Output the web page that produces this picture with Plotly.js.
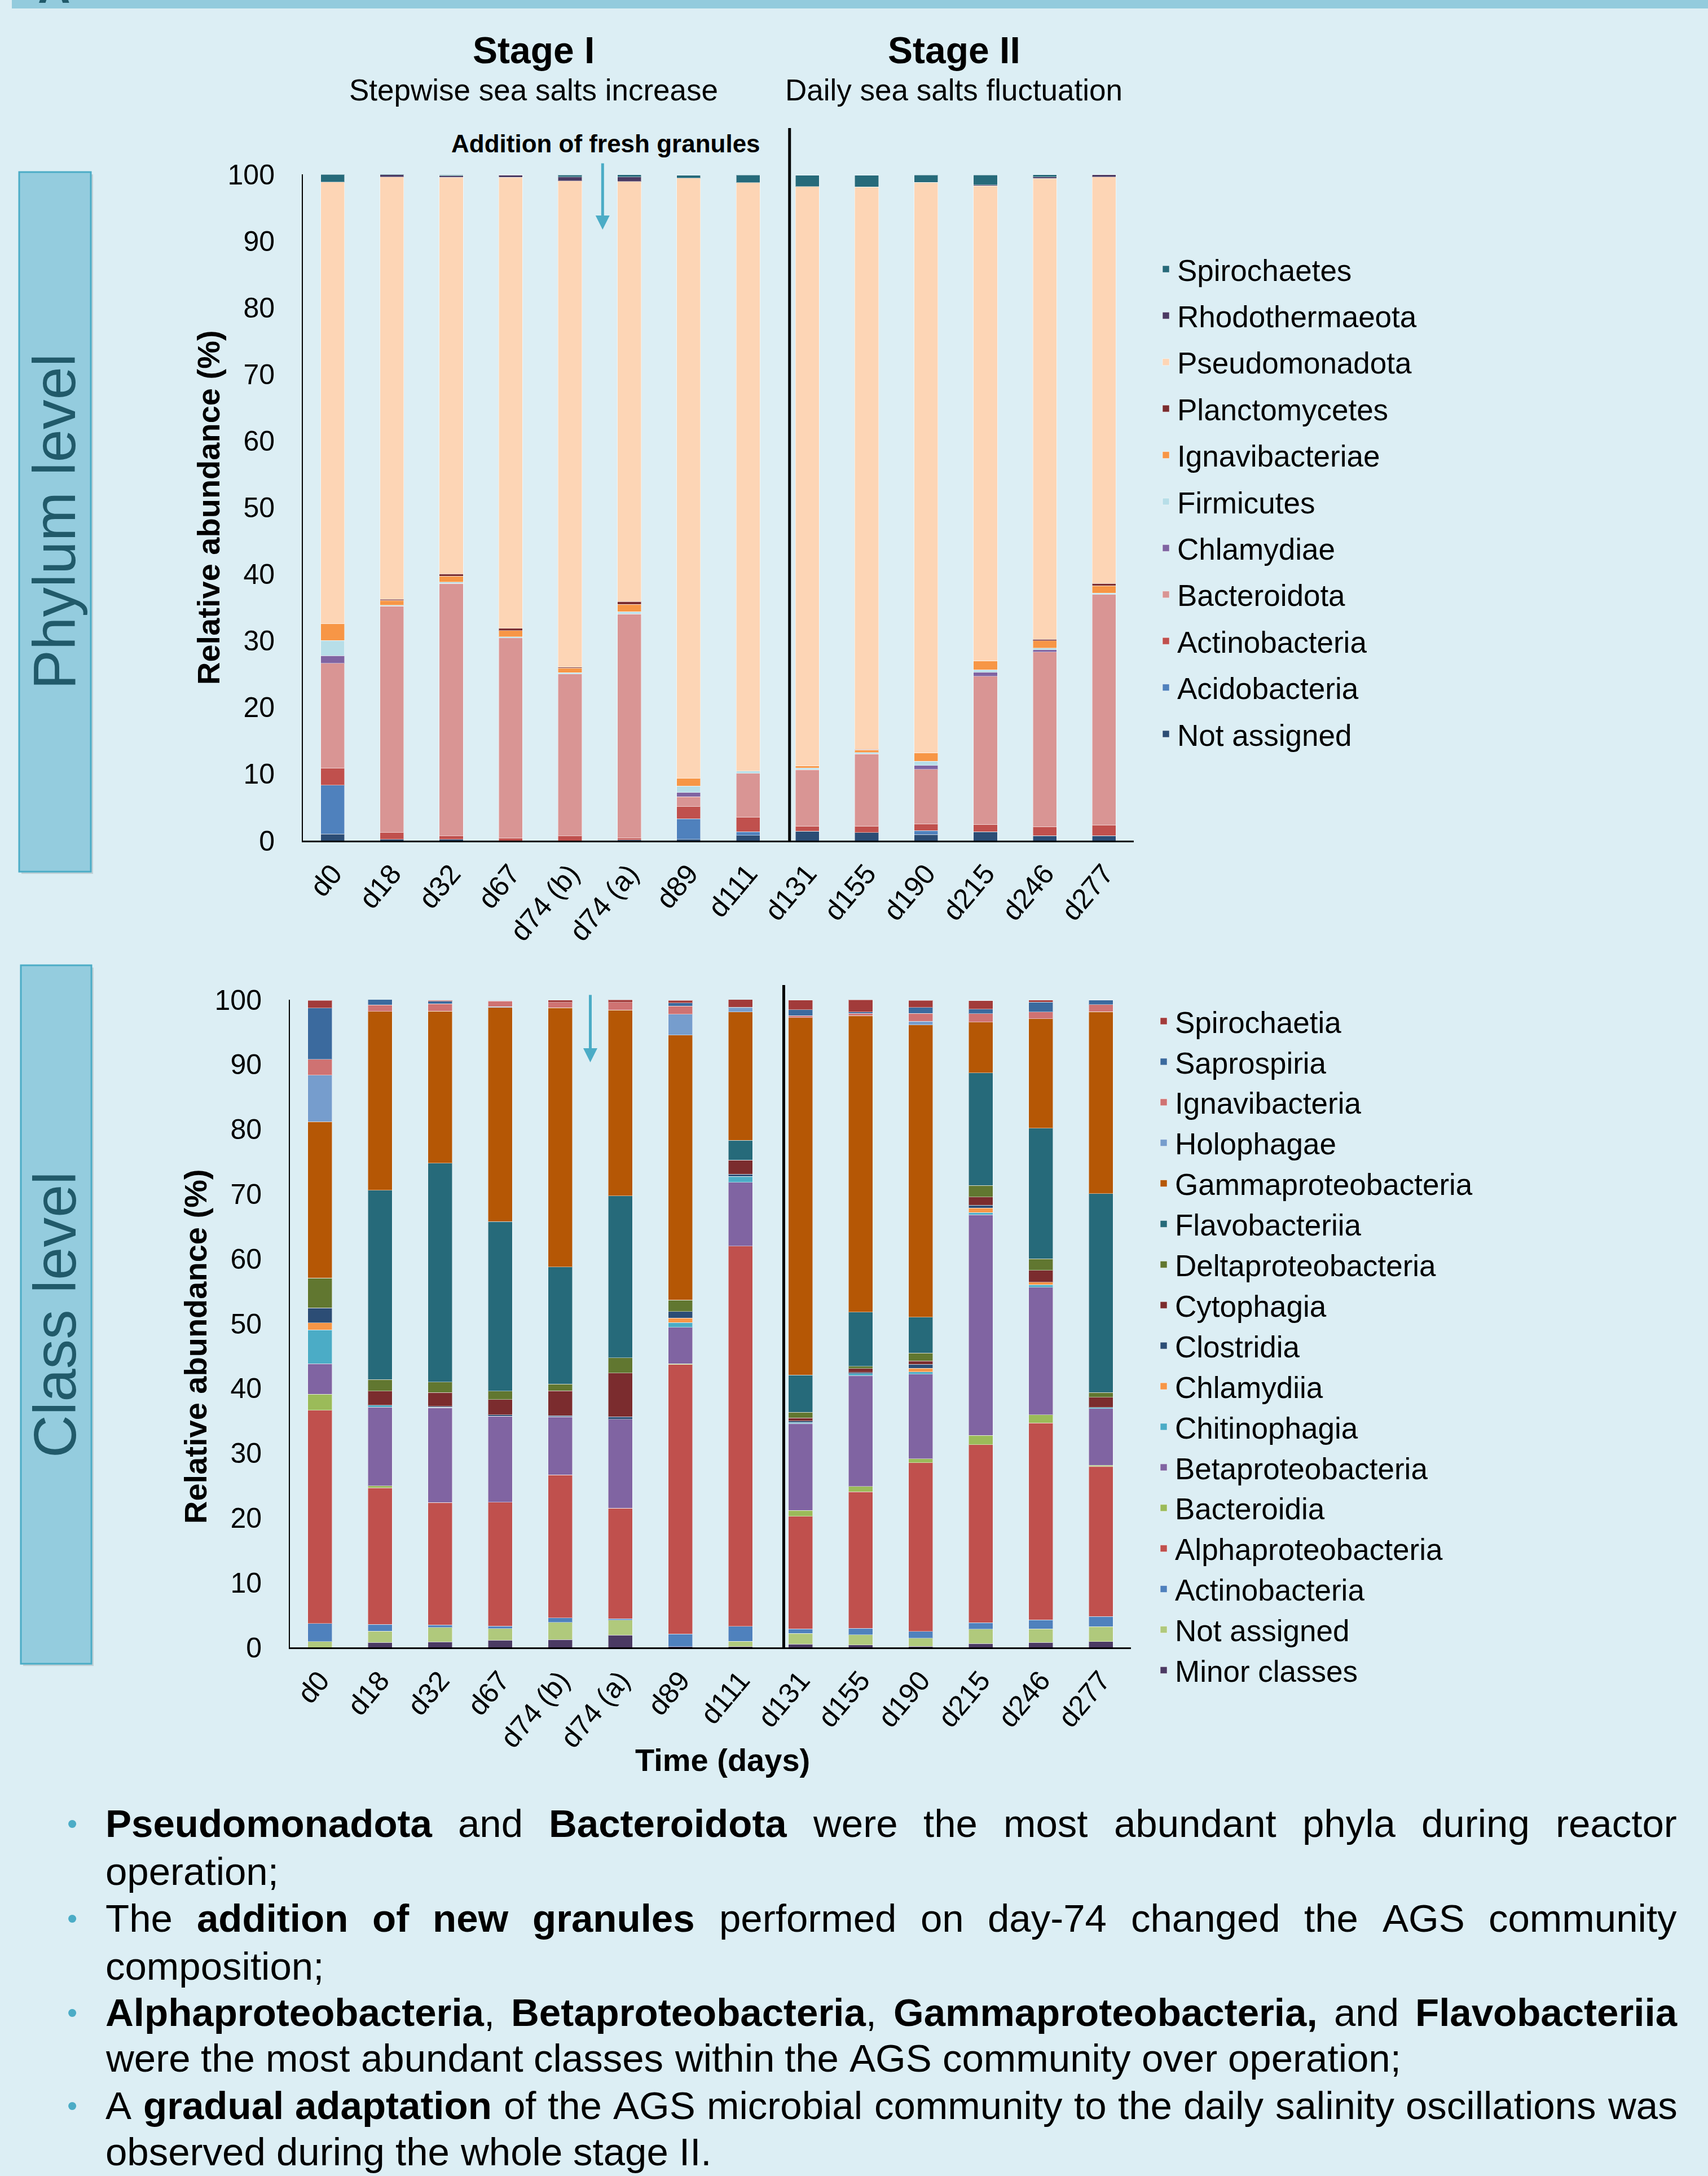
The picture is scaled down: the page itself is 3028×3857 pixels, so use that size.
<!DOCTYPE html>
<html><head><meta charset="utf-8">
<script src="https://cdn.plot.ly/plotly-3.0.1.min.js"></script>
<style>html,body{margin:0;padding:0;background:#DCEEF4;}#chart{width:3028px;height:3857px;}</style>
</head><body><div id="chart"></div>
<script>
const W = 3028, H = 3857;
const FONT = 'Liberation Sans, Arial, Helvetica, sans-serif';

// ---------- categories ----------
const samples = ['d0','d18','d32','d67','d74 (b)','d74 (a)','d89','d111','d131','d155','d190','d215','d246','d277'];

// ---------- Phylum level (stack order bottom -> top) ----------
const phylumNames  = ['Not assigned','Acidobacteria','Actinobacteria','Bacteroidota','Chlamydiae','Firmicutes','Ignavibacteriae','Planctomycetes','Pseudomonadota','Rhodothermaeota','Spirochaetes'];
const phylumColors = ['#2C4D75','#4F81BD','#C0504D','#D99594','#8064A2','#B7DEE8','#F79646','#7B2C2E','#FDD5B5','#4B3A63','#266A7A'];
const pNotAssigned    = [1.0,0.2,0.2,0.0,0.0,0.1,0.2,0.8,1.4,1.2,0.9,1.35,0.75,0.75];
const pAcidobacteria  = [7.3,0,0,0,0,0,3.1,0.55,0,0,0.6,0,0,0];
const pActinobacteria = [2.6,1.0,0.5,0.4,0.7,0.3,1.8,2.2,0.8,1.0,1.0,1.1,1.35,1.6];
const pBacteroidota   = [15.7,34.0,37.9,30.0,24.3,33.6,1.5,6.55,8.45,10.8,8.2,22.2,26.2,34.6];
const pChlamydiae     = [1.15,0,0,0,0,0,0.6,0,0,0,0.6,0.6,0.35,0];
const pFirmicutes     = [2.3,0.15,0.2,0.2,0.2,0.35,1.0,0.35,0.25,0.25,0.6,0.4,0.25,0.2];
const pIgnavibacteriae= [2.5,0.7,0.9,0.9,0.7,1.1,1.15,0,0.35,0.35,1.3,1.35,1.1,1.1];
const pPlanctomycetes = [0,0.15,0.35,0.35,0.1,0.45,0,0,0,0.1,0,0,0.2,0.35];
const pPseudomonadota = [66.3,63.4,59.5,67.7,73.0,63.0,90.1,88.3,86.9,84.4,85.6,71.3,69.2,61.0];
const pRhodothermaeota= [0,0.35,0.2,0.35,0.6,0.7,0,0,0,0,0,0.1,0.2,0.35];
const pSpirochaetes   = [1.15,0.1,0.15,0.05,0.3,0.35,0.4,1.15,1.7,1.75,1.1,1.5,0.35,0];
const phylumValues = [pNotAssigned,pAcidobacteria,pActinobacteria,pBacteroidota,pChlamydiae,pFirmicutes,pIgnavibacteriae,pPlanctomycetes,pPseudomonadota,pRhodothermaeota,pSpirochaetes];

// ---------- Class level (stack order bottom -> top) ----------
const classNames  = ['Minor classes','Not assigned','Actinobacteria','Alphaproteobacteria','Bacteroidia','Betaproteobacteria','Chitinophagia','Chlamydiia','Clostridia','Cytophagia','Deltaproteobacteria','Flavobacteriia','Gammaproteobacteria','Holophagae','Ignavibacteria','Saprospiria','Spirochaetia'];
const classColors = ['#4B3A63','#B0C97C','#4F81BD','#C0504D','#9BBB59','#8064A2','#4BACC6','#F79646','#2C4D75','#7B2C2E','#617730','#266A7A','#B55705','#769DCD','#CF7272','#3B6A9E','#A23B3A'];
const cMinor   = [0,0.75,0.85,1.1,1.2,1.9,0.1,0.1,0.5,0.35,0.15,0.6,0.75,0.9];
const cNotAss  = [0.9,1.75,2.2,1.8,2.65,2.3,0,0.85,1.65,1.6,1.25,2.2,2.1,2.3];
const cActino  = [2.8,1.05,0.4,0.4,0.7,0.2,1.95,2.3,0.7,1.0,1.05,1.0,1.4,1.55];
const cAlpha   = [32.9,21.1,18.9,19.1,22.1,17.1,41.6,58.7,17.4,21.05,26.05,27.5,30.4,23.2];
const cBacteroidia = [2.5,0.3,0,0,0,0,0.15,0,0.9,0.85,0.6,1.45,1.25,0.15];
const cBeta    = [4.7,12.15,14.65,13.3,8.95,13.7,5.6,9.85,13.4,17.1,13.1,34.05,19.7,8.75];
const cChitino = [5.2,0.3,0.1,0,0,0,0.75,0.9,0.2,0.3,0.35,0.35,0.4,0.2];
const cChlamyd = [1.1,0,0,0,0,0,0.7,0,0,0,0.55,0.7,0.4,0];
const cClostr  = [2.3,0,0.1,0.2,0.2,0.4,1.0,0.35,0.2,0.2,0.6,0.4,0,0];
const cCytoph  = [0,2.15,2.15,2.35,3.8,6.75,0,2.2,0.5,0.6,0.55,1.3,1.8,1.55];
const cDelta   = [4.65,1.8,1.6,1.3,1.05,2.35,1.8,0,0.85,0.35,1.2,1.75,1.8,0.75];
const cFlavo   = [0,29.25,33.8,26.2,18.1,25.0,0,3.05,5.75,8.35,5.55,17.4,20.15,30.7];
const cGamma   = [24.1,27.6,23.5,33.05,40.0,28.7,40.9,19.8,55.2,45.8,45.1,7.85,16.9,28.1];
const cHoloph  = [7.2,0,0,0.15,0,0,3.2,0.6,0,0,0.55,0,0,0];
const cIgnavi  = [2.45,1.0,1.1,0.85,0.85,1.2,1.25,0,0.3,0.35,1.25,1.3,1.05,1.1];
const cSapro   = [7.9,0.85,0.4,0.1,0,0,0.5,0.15,0.9,0.2,0.9,0.7,1.55,0.7];
const cSpiro   = [1.2,0,0.15,0,0.35,0.4,0.4,1.2,1.5,1.9,1.1,1.3,0.3,0];
const classValues = [cMinor,cNotAss,cActino,cAlpha,cBacteroidia,cBeta,cChitino,cChlamyd,cClostr,cCytoph,cDelta,cFlavo,cGamma,cHoloph,cIgnavi,cSapro,cSpiro];

// ---------- texts ----------
const yTickVals = [0,10,20,30,40,50,60,70,80,90,100];
const bulletLines = [
  {t:'<b>Pseudomonadota</b> and <b>Bacteroidota</b> were the most abundant phyla during reactor', j:true, b:true},
  {t:'operation;', j:false, b:false},
  {t:'The <b>addition of new granules</b> performed on day-74 changed the AGS community', j:true, b:true},
  {t:'composition;', j:false, b:false},
  {t:'<b>Alphaproteobacteria</b>, <b>Betaproteobacteria</b>, <b>Gammaproteobacteria,</b> and <b>Flavobacteriia</b>', j:true, b:true},
  {t:'were the most abundant classes within the AGS community over operation;', j:false, b:false},
  {t:'A <b>gradual adaptation</b> of the AGS microbial community to the daily salinity oscillations was', j:true, b:true},
  {t:'observed during the whole stage II.', j:false, b:false}
];
const bulletY = [3232,3317,3400,3485,3567,3648,3732,3814];

// ---------- helpers ----------
const px = v => v / W;
const py = v => 1 - v / H;

const traces = [];
phylumNames.forEach((n,i)=>{
  traces.push({type:'bar', name:n, x:samples, y:phylumValues[i], xaxis:'x', yaxis:'y',
    marker:{color:phylumColors[i], line:{color:'rgba(255,255,255,0.5)', width:1}},
    legend:'legend', legendgroup:'p'+i, legendrank:100-i, hoverinfo:'skip'});
});
classNames.forEach((n,i)=>{
  traces.push({type:'bar', name:n, x:samples, y:classValues[i], xaxis:'x2', yaxis:'y2',
    marker:{color:classColors[i], line:{color:'rgba(255,255,255,0.5)', width:1}},
    legend:'legend2', hoverinfo:'skip'});
});

const annotations = [];
function addText(text, x, y, size, opts){
  annotations.push(Object.assign({xref:'paper', yref:'paper', x:px(x), y:py(y), text:text, showarrow:false,
    xanchor:'center', yanchor:'middle', font:{family:FONT, size:size, color:'#000'}}, opts||{}));
}
addText('<b>Stage I</b>', 946, 89, 66);
addText('Stepwise sea salts increase', 946, 160, 53);
addText('<b>Stage II</b>', 1691, 89, 66);
addText('Daily sea salts fluctuation', 1691, 160, 53);
addText('<b>Addition of fresh granules</b>', 1074, 254, 44);
addText('Phylum level', 97, 925, 105, {textangle:-90, font:{family:FONT, size:105, color:'#215A6A'}});
addText('Class level', 97, 2330, 105, {textangle:-90, font:{family:FONT, size:105, color:'#215A6A'}});
addText('<b>A</b>', 96, 24, 80, {yanchor:'bottom', font:{family:FONT, size:80, color:'#215A6A'}});
// axis titles
addText('<b>Relative abundance (%)</b>', 370, 900, 56, {textangle:-90});
addText('<b>Relative abundance (%)</b>', 346, 2387, 56, {textangle:-90});
addText('<b>Time (days)</b>', 1281, 3119, 56);

// arrows
annotations.push({xref:'x', yref:'paper', x:4.55, y:py(407), ax:0, ay:-119, axref:'pixel', ayref:'pixel', text:'',
  showarrow:true, arrowhead:2, arrowsize:1, arrowwidth:5, arrowcolor:'#4BACC6'});
annotations.push({xref:'x2', yref:'paper', x:4.5, y:py(1883), ax:0, ay:-121, axref:'pixel', ayref:'pixel', text:'',
  showarrow:true, arrowhead:2, arrowsize:1, arrowwidth:5, arrowcolor:'#4BACC6'});

// justified bullet text
const cv = document.createElement('canvas').getContext('2d');
function measure(t,bold){ cv.font = (bold?'bold ':'') + '69px "Liberation Sans"'; return cv.measureText(t).width; }
function parseLine(str){
  const words=[]; let cur=[]; const re=/<b>(.*?)<\/b>|([^<]+)/g; let m;
  while((m=re.exec(str))){
    const bold = m[1]!==undefined; const txt = bold?m[1]:m[2];
    txt.split(' ').forEach((p,i)=>{ if(i>0){ if(cur.length) words.push(cur); cur=[]; } if(p.length) cur.push([p,bold]); });
  }
  if(cur.length) words.push(cur);
  return words;
}
const TL = 187, TR = 2973;
bulletLines.forEach((ln,k)=>{
  const words = parseLine(ln.t);
  const widths = words.map(w=>w.reduce((s,seg)=>s+measure(seg[0],seg[1]),0));
  const total = widths.reduce((a,b)=>a+b,0);
  const gap = ln.j ? (TR-TL-total)/(words.length-1) : measure(' ',false);
  let x = TL;
  words.forEach((w,i)=>{
    const html = w.map(seg=>seg[1]?'<b>'+seg[0]+'</b>':seg[0]).join('');
    addText(html, x, bulletY[k], 69, {xanchor:'left', borderpad:0, borderwidth:0});
    x += widths[i] + gap;
  });
  if(ln.b) addText('•', 128, bulletY[k], 52, {font:{family:FONT, size:52, color:'#4BACC6'}});
});

const shapes = [
  {type:'rect', xref:'paper', yref:'paper', x0:px(21), x1:1, y0:py(15), y1:1, fillcolor:'#93CBDD', line:{width:0}, layer:'below'},
  {type:'rect', xref:'paper', yref:'paper', x0:px(38), x1:px(165), y0:py(1549), y1:py(309), fillcolor:'rgba(0,0,0,0.12)', line:{width:0}, layer:'below'},
  {type:'rect', xref:'paper', yref:'paper', x0:px(34), x1:px(161), y0:py(1545), y1:py(305), fillcolor:'#94CCDE', line:{color:'#4BACC6', width:3}, layer:'below'},
  {type:'rect', xref:'paper', yref:'paper', x0:px(41), x1:px(166), y0:py(2953), y1:py(1715), fillcolor:'rgba(0,0,0,0.12)', line:{width:0}, layer:'below'},
  {type:'rect', xref:'paper', yref:'paper', x0:px(37), x1:px(162), y0:py(2949), y1:py(1711), fillcolor:'#94CCDE', line:{color:'#4BACC6', width:3}, layer:'below'},
  {type:'line', xref:'x', yref:'paper', x0:7.7, x1:7.7, y0:py(1490), y1:py(227), line:{color:'#000', width:5}},
  {type:'line', xref:'x2', yref:'paper', x0:7.72, x1:7.72, y0:py(2920), y1:py(1746), line:{color:'#000', width:5}}
];

function xax(d0,d1,anchor){
  return {domain:[px(d0),px(d1)], anchor:anchor, type:'category', range:[-0.5,13.5], showline:true, linecolor:'#000', linewidth:3,
    ticks:'', tickangle:-50, tickfont:{family:FONT, size:50, color:'#000'}, showgrid:false, zeroline:false, fixedrange:true,
    ticklabelstandoff:6, automargin:false};
}
function yax(top,bottom,anchor){
  return {domain:[py(bottom),py(top)], anchor:anchor, range:[0,100], tickmode:'array', tickvals:yTickVals, ticktext:yTickVals.map(String),
    showline:true, linecolor:'#000', linewidth:2, ticks:'', tickfont:{family:FONT, size:50, color:'#000'}, showgrid:false, zeroline:false,
    ticklabelstandoff:38, automargin:false, fixedrange:true};
}

const layout = {
  width:W, height:H, autosize:false, margin:{l:0,r:0,t:0,b:0,pad:0},
  paper_bgcolor:'#DCEEF4', plot_bgcolor:'rgba(0,0,0,0)',
  font:{family:FONT, color:'#000'},
  barmode:'stack', bargap:0.6, showlegend:true,
  xaxis: xax(537,2010,'y'),
  yaxis: yax(309,1490,'x'),
  xaxis2: xax(514,2005,'y2'),
  yaxis2: yax(1772,2920,'x2'),
  legend:{x:px(2047), y:py(436), xanchor:'left', yanchor:'top', bgcolor:'rgba(0,0,0,0)', borderwidth:0,
    font:{family:FONT, size:53, color:'#000'}, traceorder:'grouped', tracegroupgap:10.5, itemclick:false, itemdoubleclick:false},
  legend2:{x:px(2043), y:py(1769), xanchor:'left', yanchor:'top', bgcolor:'rgba(0,0,0,0)', borderwidth:0,
    font:{family:FONT, size:53, color:'#000'}, traceorder:'reversed', itemclick:false, itemdoubleclick:false},
  annotations: annotations,
  shapes: shapes
};
Plotly.newPlot('chart', traces, layout, {staticPlot:true, displayModeBar:false});
</script></body></html>
